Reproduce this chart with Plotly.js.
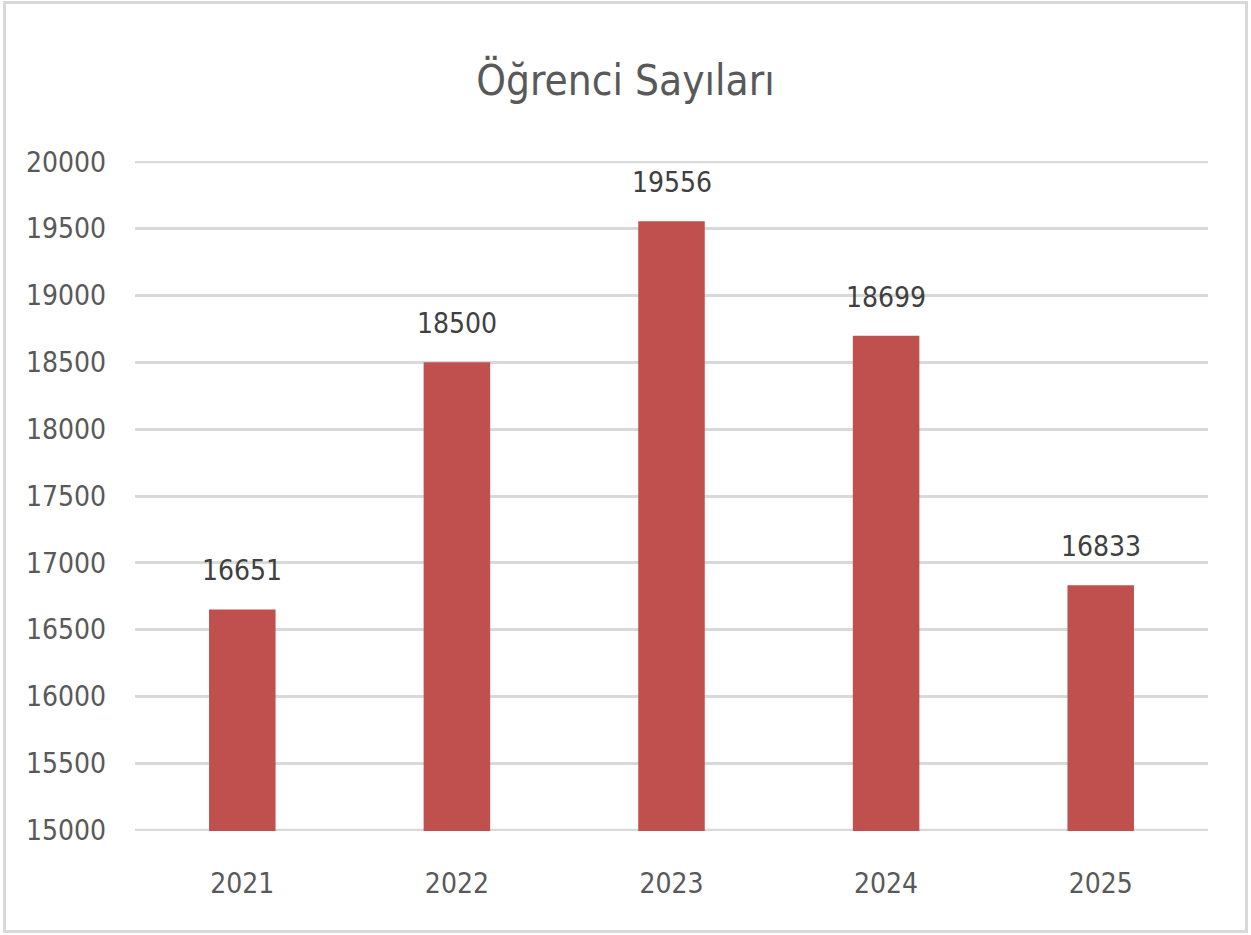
<!DOCTYPE html>
<html><head><meta charset="utf-8">
<script src="https://cdn.plot.ly/plotly-3.0.1.min.js"></script>
<style>
html,body{margin:0;padding:0;background:#fff;}
#wrap{position:relative;width:1251px;height:935px;}
#chart{position:absolute;left:0;top:0;width:1251px;height:935px;}
#frame{position:absolute;left:3px;top:1px;width:1239px;height:926px;border:3px solid #d9d9d9;pointer-events:none;}
</style></head>
<body><div id="wrap"><div id="chart"></div><div id="frame"></div></div>
<script>
const years = ['2021','2022','2023','2024','2025'];
const students = [16651, 18500, 19556, 18699, 16833];
const yTicks = [15000,15500,16000,16500,17000,17500,18000,18500,19000,19500,20000];

const FONT = '"DejaVu Sans Condensed", "DejaVu Sans", sans-serif';

const trace = {
  type: 'bar', x: years, y: students,
  marker: {color: '#C0504D'},
  hoverinfo: 'x+y'
};

const annotations = years.map((yr, i) => ({
  x: i, y: students[i], xref: 'x', yref: 'y',
  text: String(students[i]), showarrow: false,
  yanchor: 'bottom', yshift: 20,
  font: {family: FONT, size: 28, color: '#404040'}
}));

const edgeLines = [yTicks[0], yTicks[yTicks.length - 1]].map(v => ({
  type: 'line', xref: 'paper', yref: 'y', x0: 0, x1: 1, y0: v, y1: v,
  line: {color: '#d9d9d9', width: 3}, layer: 'below'
}));

const layout = {
  width: 1251, height: 935,
  margin: {l: 135, r: 43, t: 161, b: 104},
  paper_bgcolor: '#ffffff', plot_bgcolor: '#ffffff',
  title: {text: 'Öğrenci Sayıları', x: 0.5, xanchor: 'center', y: 1 - 80/935, yanchor: 'middle', yref: 'container',
          font: {family: FONT, size: 42, color: '#595959'}},
  bargap: 0.69,
  showlegend: false,
  xaxis: {type: 'category', range: [-0.5, 4.5], showgrid: false, zeroline: false, showline: false, ticks: '',
          tickfont: {family: FONT, size: 28, color: '#595959'}, ticklabelstandoff: 33},
  yaxis: {range: [14994, 20006], tickvals: yTicks, ticktext: yTicks.map(String),
          showgrid: true, gridcolor: '#d9d9d9', gridwidth: 3, zeroline: false, showline: false, ticks: '',
          tickfont: {family: FONT, size: 28, color: '#595959'}, ticklabelstandoff: 28},
  shapes: edgeLines,
  annotations: annotations
};

Plotly.newPlot('chart', [trace], layout, {displayModeBar: false, staticPlot: true});
</script></body></html>
